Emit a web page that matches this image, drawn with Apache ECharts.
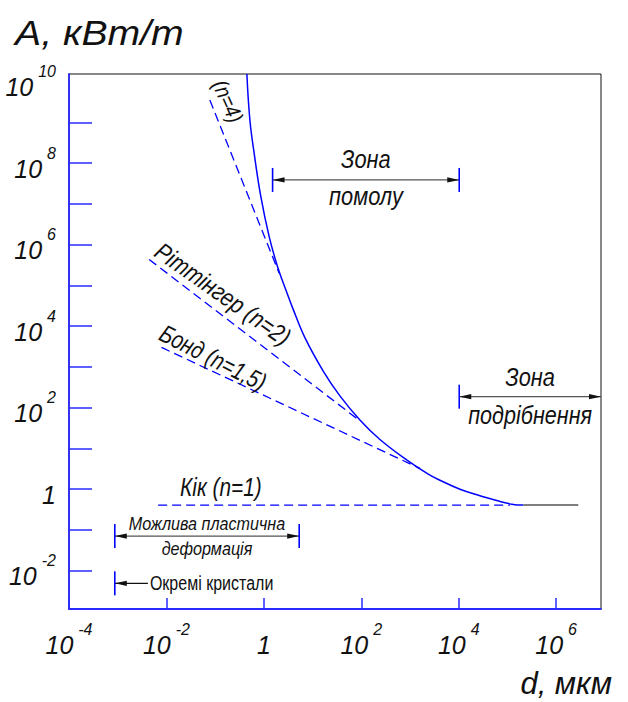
<!DOCTYPE html>
<html><head><meta charset="utf-8">
<script src="https://cdn.jsdelivr.net/npm/echarts@6/dist/echarts.min.js"></script>
<style>html,body{margin:0;padding:0;background:#fff}#c{width:628px;height:702px}</style>
</head><body><div id="c"></div>
<script>
// All values are log10: d in мкм (x), A in кВт/т (y)
const xTickExp  = [-4, -2, 0, 2, 4, 6];
const yTickExp  = [-2, -1, 0, 1, 2, 3, 4, 5, 6, 7, 8, 9];
const yLabelExp = [-2, 0, 2, 4, 6, 8, 10];

const totalLogD = [-0.349, -0.287, -0.199, -0.062, 0.109, 0.281, 0.452, 0.600, 0.842, 1.218, 1.561, 1.971, 2.382, 2.930, 3.374, 3.614, 4.025, 4.435, 4.846, 5.051, 5.200, 5.324];
const totalLogA = [10.19, 9.06, 8.24, 7.18, 6.20, 5.46, 4.89, 4.42, 3.72, 2.90, 2.29, 1.70, 1.22, 0.72, 0.37, 0.22, 0.00, -0.16, -0.30, -0.36, -0.39, -0.39];
const plateauLogD = [5.324, 6.454];
const plateauLogA = [-0.39, -0.39];
const n4LogD   = [-1.109, 0.314];  const n4LogA   = [9.55, 5.30];
const rittLogD = [-2.355, 1.903];  const rittLogA = [5.64, 1.74];
const bondLogD = [-2.101, 3.203];  const bondLogA = [3.48, 0.51];
const kickLogD = [-2.170, 5.051];  const kickLogA = [-0.39, -0.39];

// annotation ranges (log10 d) and levels (log10 A)
const grindZoneD = [0.179, 4.01];   const grindZoneA = 7.59;
const crushZoneD = [4.01, 6.92];    const crushZoneA = 2.27;
const plasticZoneD = [-3.06, 0.725]; const plasticZoneA = -1.15;
const crystalD = [-3.06, -2.38];    const crystalA = -2.31;

const FONT = '"Liberation Sans", Arial, sans-serif';
const BLUE = '#0000ff', AXIS = '#2a2aff', INK = '#111', GREY = '#555';

const zip = (a, b) => a.map((v, i) => [v, b[i]]);
const chart = echarts.init(document.getElementById('c'), null, {renderer: 'svg'});

const labelFmt = v => v === 0 ? '{b|1}' : '{b|10}{e|' + v + '}';
const rich = {
  b: {fontFamily: FONT, fontStyle: 'italic', fontSize: 25, color: INK, padding: [11, 0, 0, 0]},
  e: {fontFamily: FONT, fontStyle: 'italic', fontSize: 16, color: INK, verticalAlign: 'top', padding: [0, 0, 0, 5]}
};

const dashed = (name, d, a) => ({
  name, type: 'line', data: zip(d, a), showSymbol: false, silent: true,
  lineStyle: {color: BLUE, width: 1.3, type: [9, 5]}
});

chart.setOption({
  animation: false,
  grid: {left: 69, right: 27, top: 74, bottom: 93, show: true, borderColor: INK, borderWidth: 1},
  xAxis: {
    type: 'value', min: -4, max: 6.92,
    axisLine: {show: true, onZero: false, lineStyle: {color: AXIS, width: 1.8}},
    axisTick: {show: true, inside: true, length: 11, customValues: xTickExp, lineStyle: {color: AXIS, width: 1.5}},
    axisLabel: {customValues: xTickExp, formatter: labelFmt, rich, margin: 12},
    splitLine: {show: false}
  },
  yAxis: {
    type: 'value', min: -2.94, max: 10.19,
    axisLine: {show: true, onZero: false, lineStyle: {color: AXIS, width: 1.8}},
    axisTick: {show: true, inside: true, length: 23, customValues: yTickExp, lineStyle: {color: AXIS, width: 1.5}},
    axisLabel: {customValues: yLabelExp, formatter: labelFmt, rich, margin: 13},
    splitLine: {show: false}
  },
  series: [
    {name: 'A(d)', type: 'line', data: zip(totalLogD, totalLogA), showSymbol: false, silent: true,
     smooth: 0.4, lineStyle: {color: BLUE, width: 1.5}},
    {name: 'plateau', type: 'line', data: zip(plateauLogD, plateauLogA), showSymbol: false, silent: true,
     lineStyle: {color: GREY, width: 1.5}},
    dashed('n=4', n4LogD, n4LogA),
    dashed('Ріттінгер', rittLogD, rittLogA),
    dashed('Бонд', bondLogD, bondLogA),
    dashed('Кік', kickLogD, kickLogA)
  ]
});

function annotations() {
  const P = (x, y) => chart.convertToPixel({gridIndex: 0}, [x, y]);
  const g = [];
  const line = (x1, y1, x2, y2, stroke, w) => g.push({type: 'line', silent: true, z: 5,
    shape: {x1, y1, x2, y2}, style: {stroke, lineWidth: w}});
  const head = (x, y, dir) => g.push({type: 'polygon', silent: true, z: 6,
    shape: {points: [[x, y], [x - dir * 12, y - 2.6], [x - dir * 12, y + 2.6]]}, style: {fill: INK}});
  const text = (x, y, s, size, sx, o) => g.push(Object.assign({type: 'text', silent: true, z: 6, x, y, scaleX: sx,
    style: {text: s, fontFamily: FONT, fontStyle: 'italic', fontSize: size, fill: INK, align: 'center', verticalAlign: 'middle'}}, o || {}));
  const rot = deg => -deg * Math.PI / 180;

  function dim(d, a, barL, barR) {
    const p = P(d[0], a), q = P(d[1], a);
    line(p[0], p[1], q[0], q[1], GREY, 1.3);
    head(p[0], p[1], -1); head(q[0], q[1], 1);
    if (barL) line(p[0], p[1] - 12, p[0], p[1] + 12, BLUE, 1.6);
    if (barR) line(q[0], q[1] - 12, q[0], q[1] + 12, BLUE, 1.6);
    return [(p[0] + q[0]) / 2, p[1]];
  }
  let m = dim(grindZoneD, grindZoneA, true, true);
  text(m[0], m[1] - 21, 'Зона', 26, 0.84);
  text(m[0], m[1] + 16, 'помолу', 26, 0.84);
  m = dim(crushZoneD, crushZoneA, true, false);
  text(m[0], m[1] - 20, 'Зона', 26, 0.84);
  text(m[0], m[1] + 18, 'подрібнення', 26, 0.83);
  m = dim(plasticZoneD, plasticZoneA, true, true);
  text(m[0], m[1] - 13, 'Можлива пластична', 19, 0.85);
  text(m[0], m[1] + 12, 'деформація', 19, 0.85);

  const c0 = P(crystalD[0], crystalA), c1 = P(crystalD[1], crystalA);
  line(c0[0], c0[1], c1[0], c1[1], INK, 1.2);
  head(c0[0], c0[1], -1);
  line(c0[0], c0[1] - 12, c0[0], c0[1] + 12, BLUE, 1.6);
  g.push({type: 'text', silent: true, z: 6, x: c1[0] + 2, y: c1[1], scaleX: 0.8,
    style: {text: 'Окремі кристали', fontFamily: FONT, fontSize: 20, fill: INK, align: 'left', verticalAlign: 'middle'}});

  // curve labels (anchor = text centre in data space)
  let t = P(-0.74, 9.52);  text(t[0], t[1], '(n=4)', 22, 0.85, {rotation: rot(66)});
  t = P(-0.842, 4.79);     text(t[0], t[1], 'Ріттінгер (n=2)', 25, 0.84, {rotation: rot(35)});
  t = P(-1.047, 3.22);     text(t[0], t[1], 'Бонд (n=1,5)', 25, 0.8, {rotation: rot(27)});
  t = P(-0.883, 0.05);     text(t[0], t[1], 'Кік (n=1)', 26, 0.8);

  // axis names
  g.push({type: 'text', silent: true, x: 15, y: 33, scaleX: 1.12,
    style: {text: 'A, кВт/т', fontFamily: FONT, fontStyle: 'italic', fontSize: 35, fill: INK, align: 'left', verticalAlign: 'middle'}});
  g.push({type: 'text', silent: true, x: 612, y: 683,
    style: {text: 'd, мкм', fontFamily: FONT, fontStyle: 'italic', fontSize: 31, fill: INK, align: 'right', verticalAlign: 'middle'}});
  chart.setOption({graphic: g});
}
annotations();
</script>
</body></html>
